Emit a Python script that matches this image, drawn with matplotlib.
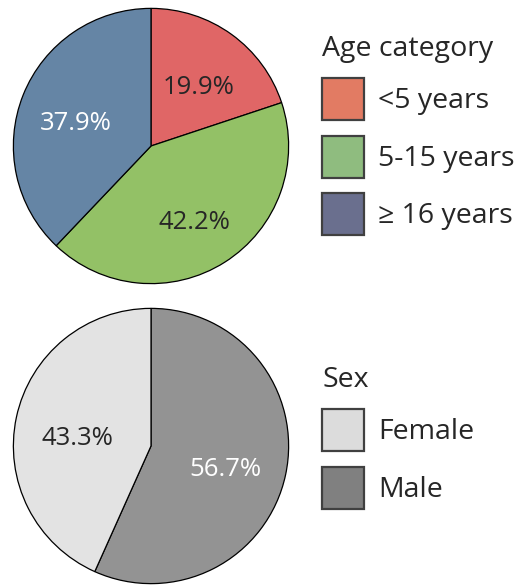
import matplotlib
matplotlib.use('Agg')
import matplotlib.pyplot as plt
from matplotlib.patches import Patch
import numpy as np

plt.rcParams['font.family'] = ['Open Sans', 'DejaVu Sans']

# Age category data
age_labels = ['<5 years', '5-15 years', '\u2265 16 years']
age_values = [19.9, 42.2, 37.9]
age_pie_colors = ['#E06666', '#93C166', '#6585A5']
age_leg_colors = ['#E27B63', '#8FBC7F', '#6A6F8E']
age_txt_colors = ['#262626', '#262626', 'white']

# Sex data
sex_labels = ['Female', 'Male']
sex_values = [43.3, 56.7]
sex_pie_colors = ['#E3E3E3', '#939393']
sex_leg_colors = ['#DCDCDC', '#808080']
sex_txt_colors = ['#262626', 'white']

W, H = 525, 588
fig = plt.figure(figsize=(W / 100, H / 100), dpi=100)


def draw_pie(top_px, values, colors, txt_colors, pctd, order_rev):
    ax = fig.add_axes([12 / W, (H - top_px - 278) / H, 278 / W, 278 / H])
    vals = values[::-1] if order_rev else values
    cols = colors[::-1] if order_rev else colors
    tcols = txt_colors[::-1] if order_rev else txt_colors
    wedges, texts, autos = ax.pie(vals, colors=cols, startangle=90, counterclock=False,
                                  autopct='%.1f%%', pctdistance=pctd,
                                  wedgeprops=dict(edgecolor='black', linewidth=0.9),
                                  textprops=dict(fontsize=18.5))
    for w, t, c in zip(wedges, autos, tcols):
        t.set_color(c)
        # labels sit a little below the wedge middle
        ang = np.deg2rad((w.theta1 + w.theta2) / 2)
        t.set_position((pctd * np.cos(ang), pctd * np.sin(ang) - 0.035))
        t.set_va('center_baseline')
    ax.set_xlim(-1.01, 1.01)
    ax.set_ylim(-1.01, 1.01)
    ax.set_aspect('equal')


def draw_legend(top_frac, labels, colors, title):
    handles = [Patch(facecolor=c, edgecolor='#404040', linewidth=1.6) for c in colors]
    leg = fig.legend(handles, labels, title=title, loc='upper left',
                     bbox_to_anchor=(322 / W, top_frac), frameon=False,
                     fontsize=20.5, title_fontsize=20.5, handlelength=1.475, handleheight=1.89,
                     labelspacing=0.54, handletextpad=0.49, borderaxespad=0, borderpad=0)
    leg._legend_box.align = 'left'
    for t in leg.get_texts():
        t.set_color('#262626')
    leg.get_title().set_color('#262626')


draw_pie(7, age_values, age_pie_colors, age_txt_colors, 0.59, False)
draw_pie(307, sex_values, sex_pie_colors, sex_txt_colors, 0.55, True)
draw_legend(1 - 35 / H, age_labels, age_leg_colors, 'Age category')
draw_legend(1 - 366 / H, sex_labels, sex_leg_colors, 'Sex')

plt.savefig('out.png', dpi=100)
